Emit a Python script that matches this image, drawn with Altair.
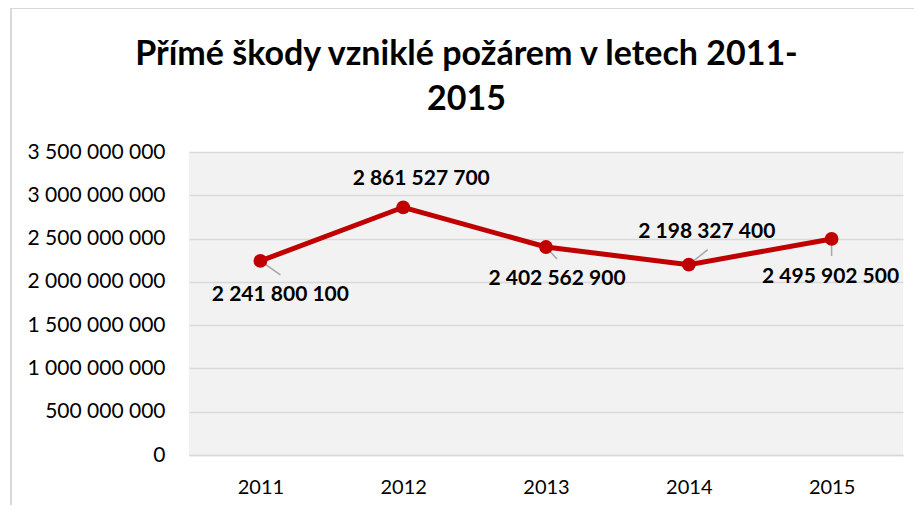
import altair as alt
import pandas as pd

years = ["2011", "2012", "2013", "2014", "2015"]
values = [2241800100, 2861527700, 2402562900, 2198327400, 2495902500]
y_ticks = [0, 500000000, 1000000000, 1500000000, 2000000000, 2500000000, 3000000000, 3500000000]
title_lines = ["Přímé škody vzniklé požárem v letech 2011-", "2015"]

df = pd.DataFrame({"year": years, "value": values})

RED = "#C00000"
FONT = "Lato"

x = alt.X("year:O", scale=alt.Scale(type="point", padding=0.5),
          axis=alt.Axis(title=None, labelAngle=0, ticks=False, tickSize=0,
                        domain=True, domainColor="#D9D9D9", domainWidth=1.5,
                        labelPadding=22, labelFontSize=20, labelFont=FONT,
                        labelColor="#000000", grid=False))
y = alt.Y("value:Q", scale=alt.Scale(domain=[0, 3500000000], nice=False),
          axis=alt.Axis(title=None, values=y_ticks, format=",d", ticks=False,
                        domain=False, grid=True, gridColor="#D9D9D9", gridWidth=1.5,
                        labelPadding=24, labelFontSize=21, labelFont=FONT,
                        labelColor="#000000"))

base = alt.Chart(df)

# outer chart-area frame (decoration)
frame_top = base.mark_rule(color="#D9D9D9", strokeWidth=1.5).encode(
    x=alt.value(-178), x2=alt.value(733), y=alt.value(-144))
frame_left = base.mark_rule(color="#D9D9D9", strokeWidth=1.5).encode(
    x=alt.value(-178), y=alt.value(-144), y2=alt.value(370))

line = base.mark_line(color=RED, strokeWidth=5).encode(x=x, y=y)
points = base.mark_circle(color=RED, size=190, opacity=1).encode(x=x, y=y)

# leader lines (offsets in px) and label offsets per year
leaders = {"2011": (20, 14), "2013": (11, 12), "2014": (19, -15), "2015": (0, 17)}
label_off = {"2011": (20, 34), "2012": (18, -28), "2013": (11, 32), "2014": (18, -33), "2015": (-1, 38)}

layers = [frame_top, frame_left, line]
for yr, (ox, oy) in leaders.items():
    layers.append(
        base.transform_filter(alt.datum.year == yr)
        .mark_rule(color="#A6A6A6", strokeWidth=1.5, x2Offset=ox, y2Offset=oy)
        .encode(x=x, y=y, x2="year:O", y2="value:Q")
    )
layers.append(points)
for yr, (dx, dy) in label_off.items():
    layers.append(
        base.transform_filter(alt.datum.year == yr)
        .mark_text(dx=dx, dy=dy, font=FONT, fontSize=21, fontWeight="bold",
                   color="#000000", baseline="middle", align="center")
        .encode(x=x, y=y, text=alt.Text("value:Q", format=",d"))
    )

chart = alt.layer(*layers).properties(
    width=714, height=303,
    padding={"left": 181, "top": 144, "right": 11, "bottom": 50},
    autosize=alt.AutoSizeParams(type="none"),
    title=alt.TitleParams(text=title_lines, font=FONT, fontSize=34, fontWeight="bold",
                          color="#000000", anchor="middle", frame="bounds",
                          offset=-110, lineHeight=45),
).configure(
    background="white",
    locale={"number": {"decimal": ",", "thousands": " ", "grouping": [3], "currency": ["", ""]}},
).configure_view(fill="#F2F2F2", stroke=None)

chart.save("out.html", embed_options={"renderer": "svg", "actions": False})
